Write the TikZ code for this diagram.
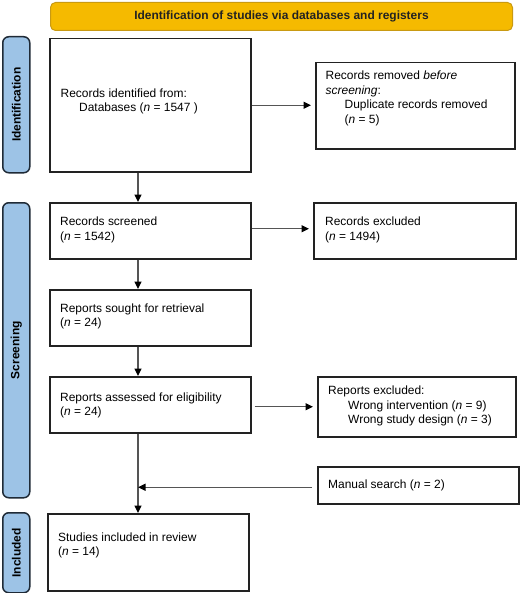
\documentclass[tikz,border=0pt]{standalone}
\usepackage{fontspec}
\setmainfont{Liberation Sans}
\usepackage{tikz}
\usetikzlibrary{arrows.meta,positioning}
\definecolor{headeryellow}{HTML}{F5BA00}
\definecolor{headeredge}{HTML}{C99A12}
\definecolor{phaseblue}{HTML}{9DC3E6}
\definecolor{phaseedge}{HTML}{1F2A36}
\definecolor{boxedge}{HTML}{222222}
\definecolor{linkgray}{HTML}{555555}

\begin{document}
\begin{tikzpicture}[x=1bp, y=-1bp,
    box/.style={draw=boxedge, line width=1.5bp, fill=white, inner sep=0pt, anchor=north west},
    phase/.style={draw=phaseedge, line width=1.5bp, fill=phaseblue, rounded corners=6bp, inner sep=0pt, anchor=north west, minimum width=27bp},
    phaselabel/.style={rotate=90, inner sep=0pt, font=\bfseries\fontsize{12}{14}\selectfont},
    boxtext/.style={anchor=west, inner sep=0pt, align=left, font=\fontsize{12}{14.5}\selectfont},
    link/.style={draw=linkgray, line width=1.1bp, -{Triangle[length=7.5bp,width=7bp,color=black]}}]
    \useasboundingbox (0,0) rectangle (520,593);

    % Header
    \node[draw=headeredge, line width=1bp, fill=headeryellow, rounded corners=5bp, anchor=north west,
          minimum width=462bp, minimum height=28bp, font=\bfseries\fontsize{12}{14}\selectfont, text=boxedge]
          (header) at (50,2) {Identification of studies via databases and registers};

    % Phase bars on the left
    \node[phase, minimum height=136bp] (identbar) at (2,36) {};
    \node[phase, minimum height=295bp] (screenbar) at (2,202) {};
    \node[phase, minimum height=80bp] (inclbar) at (2,512) {};
    \node[phaselabel] (identlab) at (identbar.center) {Identification};
    \node[phaselabel] (screenlab) at (screenbar.center) {Screening};
    \node[phaselabel] (incllab) at (inclbar.center) {Included};

    % Main column boxes
    \node[box, minimum width=201bp, minimum height=133bp] (ident) at (49,38) {};
    \node[box, minimum width=201bp, minimum height=56bp] (screened) at (49,202) {};
    \node[box, minimum width=201bp, minimum height=56bp] (sought) at (49,289) {};
    \node[box, minimum width=201bp, minimum height=56bp] (assessed) at (49,376) {};
    \node[box, minimum width=201bp, minimum height=77bp] (included) at (47,513) {};

    % Side boxes
    \node[box, minimum width=199bp, minimum height=86bp] (removed) at (315,62) {};
    \node[box, minimum width=202bp, minimum height=56bp] (excluded) at (313,202) {};
    \node[box, minimum width=198bp, minimum height=60bp] (repexcl) at (317,376) {};
    \node[box, minimum width=201bp, minimum height=37bp] (manual) at (317,466) {};

    % Box texts
    \node[boxtext] (identtxt) at (60.5,101.5) {Records identified from:\\\hspace*{18.5bp}Databases (\textit{n} = 1547 )};
    \node[boxtext] (screenedtxt) at (60,230) {Records screened\\(\textit{n} = 1542)};
    \node[boxtext] (soughttxt) at (60,316.5) {Reports sought for retrieval\\(\textit{n} = 24)};
    \node[boxtext] (assessedtxt) at (60,405.5) {Reports assessed for eligibility\\(\textit{n} = 24)};
    \node[boxtext] (includedtxt) at (58,545.5) {Studies included in review\\(\textit{n} = 14)};
    \node[boxtext] (removedtxt) at (325.5,98.5) {Records removed \textit{before}\\\textit{screening}:\\\hspace*{19bp}Duplicate records removed\\\hspace*{19bp}(\textit{n} = 5)};
    \node[boxtext] (excludedtxt) at (325,230) {Records excluded\\(\textit{n} = 1494)};
    \node[boxtext] (repexcltxt) at (328,406) {Reports excluded:\\\hspace*{20bp}Wrong intervention (\textit{n} = 9)\\\hspace*{20bp}Wrong study design (\textit{n} = 3)};
    \node[boxtext] (manualtxt) at (328,485) {Manual search (\textit{n} = 2)};

    % Flow down the main column
    \coordinate (spine) at (138,0);
    \draw[link] (ident.south -| spine) -- (screened.north -| spine);
    \draw[link] (screened.south -| spine) -- (sought.north -| spine);
    \draw[link] (sought.south -| spine) -- (assessed.north -| spine);
    \draw[link] (assessed.south -| spine) -- (included.north -| spine);

    % Exclusions to the right
    \draw[link, shorten >=4bp] (ident.east) -- (ident.east -| removed.west);
    \draw[link, shorten >=4bp] ([yshift=2bp]screened.east) -- ([yshift=2bp]screened.east -| excluded.west);
    \draw[link, shorten <=3bp, shorten >=4bp] ([yshift=-2bp]assessed.east) -- ([yshift=-2bp]assessed.east -| repexcl.west);

    % Manual search joins the flow
    \draw[link, shorten <=5bp] ([yshift=-2bp]manual.west) -- ([yshift=-2bp]manual.west -| spine);
\end{tikzpicture}
\end{document}
